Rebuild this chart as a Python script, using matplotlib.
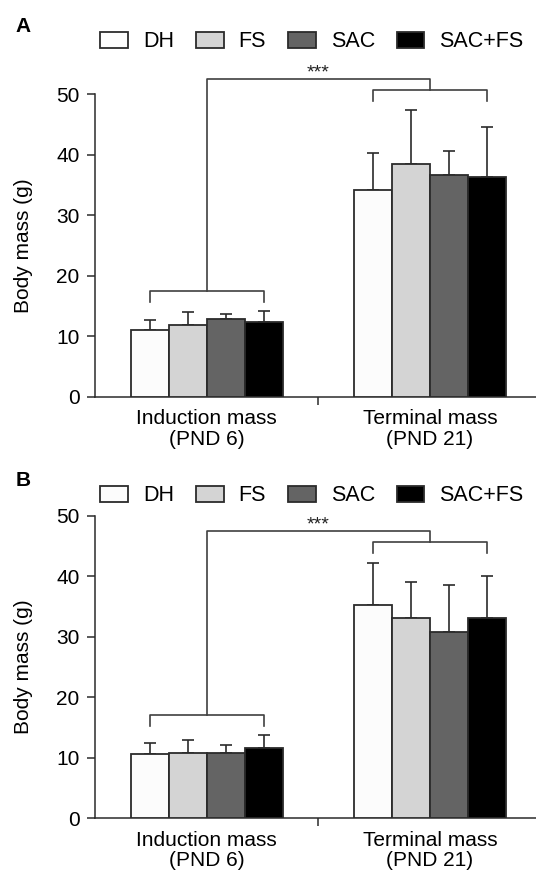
import numpy as np
import matplotlib
matplotlib.use('Agg')
import matplotlib.pyplot as plt

plt.rcParams['font.family'] = ['Liberation Sans', 'DejaVu Sans']

groups = ['Induction mass\n(PND 6)', 'Terminal mass\n(PND 21)']
series = ['DH', 'FS', 'SAC', 'SAC+FS']
colors = ['#fcfcfc', '#d4d4d4', '#646464', '#000000']

# panel A : mean and upper SD, [induction, terminal]
mean_a = {'DH': [11.1, 34.2], 'FS': [11.8, 38.5], 'SAC': [12.8, 36.6], 'SAC+FS': [12.3, 36.4]}
err_a = {'DH': [1.6, 6.1], 'FS': [2.2, 8.9], 'SAC': [0.9, 4.1], 'SAC+FS': [1.9, 8.2]}
# panel B
mean_b = {'DH': [10.6, 35.3], 'FS': [10.8, 33.1], 'SAC': [10.8, 30.8], 'SAC+FS': [11.6, 33.1]}
err_b = {'DH': [1.9, 6.8], 'FS': [2.1, 5.9], 'SAC': [1.3, 7.7], 'SAC+FS': [2.1, 7.0]}

# bracket heights: induction, terminal, top line
brk_a = [17.5, 50.7, 52.5]
brk_b = [17.0, 45.6, 47.5]
stars = '***'

edge = '#2b2b2b'
w = 0.17


def panel(ax, means, errs, brk):
    x = np.arange(len(groups))
    for i, s in enumerate(series):
        xs = x + (i - 1.5) * w
        ax.bar(xs, means[s], w, color=colors[i], edgecolor=edge, linewidth=1.3,
               zorder=3, label=s)
        ax.errorbar(xs, means[s], yerr=[np.zeros(len(x)), errs[s]], fmt='none',
                    ecolor=edge, elinewidth=1.2, capsize=4, capthick=1.2, zorder=2)
    # brackets
    lx0, lx1 = x[0] - 1.5 * w, x[0] + 1.5 * w
    rx0, rx1 = x[1] - 1.5 * w, x[1] + 1.5 * w
    leg = 1.8
    lc = '#404040'
    kw = dict(color=lc, lw=1.2, clip_on=False, zorder=4)
    ax.plot([lx0, lx0, lx1, lx1], [brk[0] - leg, brk[0], brk[0], brk[0] - leg], **kw)
    ax.plot([rx0, rx0, rx1, rx1], [brk[1] - leg, brk[1], brk[1], brk[1] - leg], **kw)
    ax.plot([x[0], x[0], x[1], x[1]], [brk[0], brk[2], brk[2], brk[1]], **kw)
    ax.text((x[0] + x[1]) / 2, brk[2] + 1.0, stars, ha='center', va='center',
            fontsize=14, color='#222222')

    ax.set_xlim(-0.5, 1.475)
    ax.set_ylim(0, 50)
    ax.set_yticks(np.arange(0, 51, 10))
    ax.set_xticks([0.5])
    ax.set_xticklabels([''])
    ax.set_xticks(x, minor=True)
    ax.set_xticklabels(groups, minor=True, fontsize=15, linespacing=1.1)
    ax.tick_params(axis='x', which='minor', length=0, pad=9)
    ax.tick_params(axis='x', which='major', length=6, width=1.1, color=edge)
    ax.tick_params(axis='y', length=6, width=1.1, color=edge, labelsize=15, pad=5)
    for sp in ['top', 'right']:
        ax.spines[sp].set_visible(False)
    for sp in ['left', 'bottom']:
        ax.spines[sp].set_linewidth(1.1)
        ax.spines[sp].set_color(edge)
    ax.set_ylabel('Body mass (g)', fontsize=15, labelpad=17)


fig = plt.figure(figsize=(5.36, 8.74), dpi=100)
ax_a = fig.add_axes([0.1772, 0.5461, 0.8228, 0.3460])
ax_b = fig.add_axes([0.1772, 0.0637, 0.8228, 0.3463])
panel(ax_a, mean_a, err_a, brk_a)
panel(ax_b, mean_b, err_b, brk_b)

for ax, ly, letter, lety in [(ax_a, 1 - 41.7 / 874, 'A', 1 - 26 / 874),
                             (ax_b, 1 - 496 / 874, 'B', 1 - 481 / 874)]:
    h, l = ax.get_legend_handles_labels()
    fig.legend(h, l, loc='center left', bbox_to_anchor=(100 / 536, ly), ncol=4,
               frameon=False, fontsize=15.5, handlelength=1.3, handleheight=0.75,
               handletextpad=0.7, columnspacing=1.0, borderpad=0, borderaxespad=0)
    fig.text(23 / 536, lety, letter, fontsize=15, fontweight='bold', ha='center', va='center')

fig.savefig('out.png', dpi=100)
